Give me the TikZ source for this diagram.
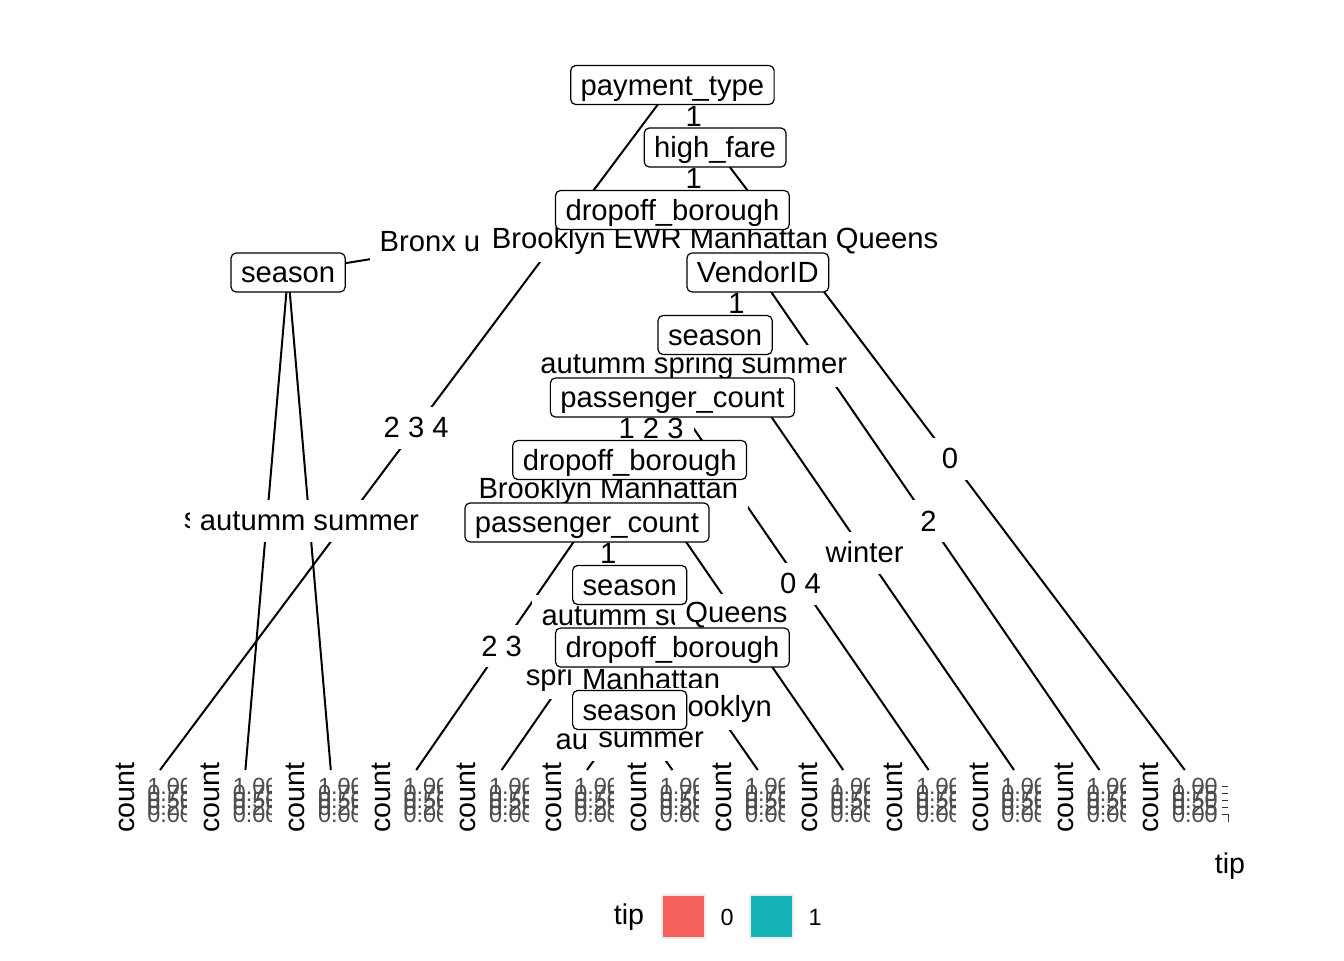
\documentclass[tikz,border=0pt]{standalone}
\usepackage{fontspec}
\setmainfont{Liberation Sans}
\usepackage{tikz}
\usetikzlibrary{positioning}
\definecolor{tipred}{HTML}{F5605B}
\definecolor{tipteal}{HTML}{16B4B8}
\definecolor{axgrey}{HTML}{4D4D4D}
\pgfdeclarelayer{edges}
\pgfdeclarelayer{labels}
\pgfsetlayers{edges,labels,main}
\tikzset{split/.style = {draw, fill = white, rounded corners = 2.5pt, line width = 0.6pt, inner xsep = 5pt, inner ysep = 0pt, minimum height = 19.5pt, text height = 12pt, text depth = 2pt, font = \fontsize{14.6}{17}\selectfont}}
\tikzset{edgelab/.style = {fill = white, inner xsep = 5pt, inner ysep = 0pt, minimum height = 21pt, font = \fontsize{14.6}{17}\selectfont}}
\tikzset{edge/.style = {line width = 1pt}}
\tikzset{axtitle/.style = {inner sep = 0, font = \fontsize{14.3}{17}\selectfont}}
\tikzset{ticks/.style = {inner sep = 0, anchor = north west, text = axgrey, font = \fontsize{11.7}{14}\selectfont}}
\tikzset{tickmark/.style = {draw = black!80, line width = 0.5pt}}
\tikzset{key/.style = {draw = black!7, line width = 1pt, minimum size = 21.5pt, inner sep = 0}}
\newcommand{\tickstack}{\vbox{\baselineskip = 3.5pt \lineskiplimit = -\maxdimen \hbox{1.00}\hbox{0.75}\hbox{0.50}\hbox{0.25}\hbox{0.00}}}

\begin{document}
\begin{tikzpicture}[x = 0.5pt, y = -0.5pt]
  \useasboundingbox (0, 0) rectangle (1344, 960);

  % inner nodes
  \node [split] (pt) at (672.4, 85) {payment\_type};
  \node [split] (hf) at (715.1, 147.5) {high\_fare};
  \node [split] (db1) at (672.4, 210) {dropoff\_borough};
  \node [split] (se1) at (288.1, 272.5) {season};
  \node [split] (vid) at (757.8, 272.5) {VendorID};
  \node [split] (se2) at (715.1, 335) {season};
  \node [split] (pc1) at (672.4, 397.5) {passenger\_count};
  \node [split] (db2) at (629.7, 460) {dropoff\_borough};
  \node [split] (pc2) at (587, 522.5) {passenger\_count};
  \node [split] (se3) at (629.7, 585) {season};
  \node [split] (db3) at (672.4, 647.5) {dropoff\_borough};
  \node [split] (se4) at (629.7, 710) {season};

  % terminal nodes
  \coordinate (t1) at (160, 770);
  \coordinate (t2) at (245.4, 770);
  \coordinate (t3) at (330.8, 770);
  \coordinate (t4) at (416.2, 770);
  \coordinate (t5) at (501.6, 770);
  \coordinate (t6) at (587, 770);
  \coordinate (t7) at (672.4, 770);
  \coordinate (t8) at (757.8, 770);
  \coordinate (t9) at (843.2, 770);
  \coordinate (t10) at (928.6, 770);
  \coordinate (t11) at (1014, 770);
  \coordinate (t12) at (1099.4, 770);
  \coordinate (t13) at (1184.8, 770);

  \begin{pgfonlayer}{edges}
    \draw [edge] (pt.center) -- (t1);
    \draw [edge] (pt.center) -- (hf.center);
    \draw [edge] (hf.center) -- (db1.center);
    \draw [edge] (db1.center) -- (se1.center);
    \draw [edge] (se1.center) -- (t2);
    \draw [edge] (se1.center) -- (t3);
    \draw [edge] (db1.center) -- (vid.center);
    \draw [edge] (vid.center) -- (se2.center);
    \draw [edge] (se2.center) -- (pc1.center);
    \draw [edge] (pc1.center) -- (db2.center);
    \draw [edge] (db2.center) -- (pc2.center);
    \draw [edge] (pc2.center) -- (t4);
    \draw [edge] (pc2.center) -- (se3.center);
    \draw [edge] (se3.center) -- (t5);
    \draw [edge] (se3.center) -- (db3.center);
    \draw [edge] (db3.center) -- (se4.center);
    \draw [edge] (se4.center) -- (t6);
    \draw [edge] (se4.center) -- (t7);
    \draw [edge] (db3.center) -- (t8);
    \draw [edge] (db2.center) -- (t9);
    \draw [edge] (pc1.center) -- (t10);
    \draw [edge] (se2.center) -- (t11);
    \draw [edge] (vid.center) -- (t12);
    \draw [edge] (hf.center) -- (t13);
  \end{pgfonlayer}

  \begin{pgfonlayer}{labels}
    \path (pt.center) -- node [edgelab] {2 3 4} (t1);
    \path (pt.center) -- node [edgelab] {1} (hf.center);
    \path (hf.center) -- node [edgelab] {1} (db1.center);
    \path (db1.center) -- node [edgelab] {Bronx unknown} (se1.center);
    \path (se1.center) -- node [edgelab] {spring winter} (t2);
    \path (se1.center) -- node [edgelab] {autumm summer} (t3);
    \path (db1.center) -- node [edgelab] {Brooklyn EWR Manhattan Queens} (vid.center);
    \path (vid.center) -- node [edgelab] {1} (se2.center);
    \path (se2.center) -- node [edgelab] {autumm spring summer} (pc1.center);
    \path (pc1.center) -- node [edgelab] {1 2 3} (db2.center);
    \path (db2.center) -- node [edgelab] {Brooklyn Manhattan} (pc2.center);
    \path (pc2.center) -- node [edgelab] {2 3} (t4);
    \path (pc2.center) -- node [edgelab] {1} (se3.center);
    \path (se3.center) -- node [edgelab] {spring} (t5);
    \path (se3.center) -- node [edgelab] {autumm summer} (db3.center);
    \path (db3.center) -- node [edgelab] {Manhattan} (se4.center);
    \path (se4.center) -- node [edgelab] {autumm} (t6);
    \path (se4.center) -- node [edgelab] {summer} (t7);
    \path (db3.center) -- node [edgelab] {Brooklyn} (t8);
    \path (db2.center) -- node [edgelab] {Queens} (t9);
    \path (pc1.center) -- node [edgelab] {0 4} (t10);
    \path (se2.center) -- node [edgelab] {winter} (t11);
    \path (vid.center) -- node [edgelab] {2} (t12);
    \path (hf.center) -- node [edgelab] {0} (t13);
  \end{pgfonlayer}

  % terminal panels
  \node [axtitle, rotate = 90] (c1) at (125, 798) {count};
  \node [axtitle, rotate = 90] (c2) at (210.4, 798) {count};
  \node [axtitle, rotate = 90] (c3) at (295.8, 798) {count};
  \node [axtitle, rotate = 90] (c4) at (381.2, 798) {count};
  \node [axtitle, rotate = 90] (c5) at (466.6, 798) {count};
  \node [axtitle, rotate = 90] (c6) at (552, 798) {count};
  \node [axtitle, rotate = 90] (c7) at (637.4, 798) {count};
  \node [axtitle, rotate = 90] (c8) at (722.8, 798) {count};
  \node [axtitle, rotate = 90] (c9) at (808.2, 798) {count};
  \node [axtitle, rotate = 90] (c10) at (893.6, 798) {count};
  \node [axtitle, rotate = 90] (c11) at (979, 798) {count};
  \node [axtitle, rotate = 90] (c12) at (1064.4, 798) {count};
  \node [axtitle, rotate = 90] (c13) at (1149.8, 798) {count};

  \begin{scope}
    \clip (140, 770) rectangle (186.4, 840) (225.4, 770) rectangle (271.8, 840)
      (310.8, 770) rectangle (357.2, 840) (396.2, 770) rectangle (442.6, 840)
      (481.6, 770) rectangle (528, 840) (567, 770) rectangle (613.4, 840)
      (652.4, 770) rectangle (698.8, 840) (737.8, 770) rectangle (784.2, 840)
      (823.2, 770) rectangle (869.6, 840) (908.6, 770) rectangle (955, 840)
      (994, 770) rectangle (1040.4, 840) (1079.4, 770) rectangle (1125.8, 840);
    \node [ticks] (k1) at (147, 778) {\tickstack};
    \node [ticks] (k2) at (232.4, 778) {\tickstack};
    \node [ticks] (k3) at (317.8, 778) {\tickstack};
    \node [ticks] (k4) at (403.2, 778) {\tickstack};
    \node [ticks] (k5) at (488.6, 778) {\tickstack};
    \node [ticks] (k6) at (574, 778) {\tickstack};
    \node [ticks] (k7) at (659.4, 778) {\tickstack};
    \node [ticks] (k8) at (744.8, 778) {\tickstack};
    \node [ticks] (k9) at (830.2, 778) {\tickstack};
    \node [ticks] (k10) at (915.6, 778) {\tickstack};
    \node [ticks] (k11) at (1001, 778) {\tickstack};
    \node [ticks] (k12) at (1086.4, 778) {\tickstack};
  \end{scope}
  \node [ticks] (k13) at (1171.8, 778) {\tickstack};
  \draw [tickmark] (1222, 786.4) -- (1228, 786.4);
  \draw [tickmark] (1222, 793.4) -- (1228, 793.4);
  \draw [tickmark] (1222, 800.4) -- (1228, 800.4);
  \draw [tickmark] (1222, 807.4) -- (1228, 807.4);
  \draw [tickmark] (1222, 814.4) -- (1228, 814.4) -- (1228, 822);

  \node [axtitle] (xtip) at (1230, 866) {tip};

  % legend
  \node [axtitle] (ltip) at (629, 917) {tip};
  \node [key, fill = tipred] (key0) at (683.5, 916.5) {};
  \node [font = \fontsize{11.7}{14}\selectfont] (lab0) at (727, 917) {0};
  \node [key, fill = tipteal] (key1) at (771.5, 916.5) {};
  \node [font = \fontsize{11.7}{14}\selectfont] (lab1) at (815, 917) {1};
\end{tikzpicture}
\end{document}
